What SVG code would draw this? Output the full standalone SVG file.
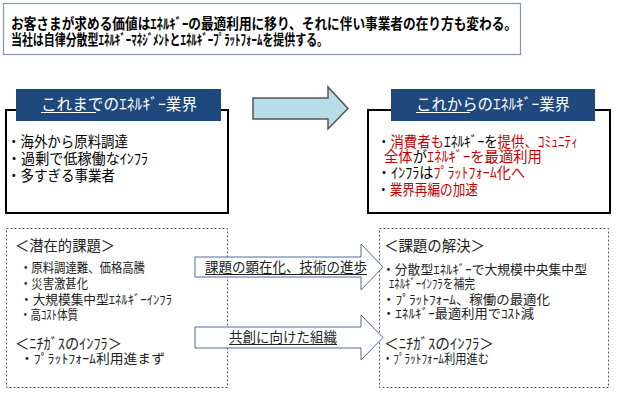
<svg xmlns="http://www.w3.org/2000/svg" width="624" height="393" viewBox="0 0 624 393">
<style>
text{font-family:"Noto Sans CJK JP","Noto Sans",sans-serif;fill:#000;}
.title{font-size:14.5px;font-weight:bold;}
.hdr{font-size:15.5px;fill:#fff;}
.b1{font-size:14.5px;}
.sec{font-size:15px;fill:#222;}
.b2{font-size:13px;fill:#222;}
.red{fill:#C00000;}
.arrtxt{font-size:14px;fill:#222;}
.hbox{fill:#1F497D;}
.body{fill:#fff;stroke:#000;stroke-width:2;}
.dash{fill:#fff;stroke:#555;stroke-width:1;stroke-dasharray:2,2;}
.marr{fill:#fff;stroke:#4F6A9A;stroke-width:1;}
.ul{stroke-width:1;}
</style>
<rect width="624" height="393" fill="#fff"/>
<g id="summary">
<rect x="3.5" y="3.5" width="517" height="51" fill="#fff" stroke="#8395B5" stroke-width="1.2"/>
<text class="title" x="11" y="29" textLength="506" lengthAdjust="spacingAndGlyphs">お客さまが求める価値はｴﾈﾙｷﾞｰの最適利用に移り、それに伴い事業者の在り方も変わる。</text>
<text class="title" x="11" y="45" textLength="317" lengthAdjust="spacingAndGlyphs">当社は自律分散型ｴﾈﾙｷﾞｰﾏﾈｼﾞﾒﾝﾄとｴﾈﾙｷﾞｰﾌﾟﾗｯﾄﾌｫｰﾑを提供する。</text>
</g>
<g id="past">
<rect class="body" x="6" y="110" width="222" height="103"/>
<rect class="hbox" x="16" y="89" width="205" height="32"/>
<text class="hdr" x="41" y="110" textLength="156" lengthAdjust="spacingAndGlyphs">これまでのｴﾈﾙｷﾞｰ業界</text>
<line x1="41" y1="112.5" x2="96" y2="112.5" stroke="#fff" class="ul"/>
<text class="b1" x="7" y="147" textLength="121" lengthAdjust="spacingAndGlyphs">・海外から原料調達</text>
<text class="b1" x="7" y="164" textLength="141" lengthAdjust="spacingAndGlyphs">・過剰で低稼働なｲﾝﾌﾗ</text>
<text class="b1" x="7" y="181" textLength="108" lengthAdjust="spacingAndGlyphs">・多すぎる事業者</text>
</g>
<g id="future">
<rect class="body" x="368" y="110" width="242" height="103"/>
<rect class="hbox" x="391" y="89" width="204" height="32"/>
<text class="hdr" x="416" y="110" textLength="154" lengthAdjust="spacingAndGlyphs">これからのｴﾈﾙｷﾞｰ業界</text>
<line x1="416" y1="112.5" x2="470" y2="112.5" stroke="#fff" class="ul"/>
<text class="b1" x="377" y="147" textLength="201" lengthAdjust="spacingAndGlyphs">・<tspan class="red">消費者も</tspan>ｴﾈﾙｷﾞｰを<tspan class="red">提供、ｺﾐｭﾆﾃｨ</tspan></text>
<text class="b1" x="384" y="162" textLength="158" lengthAdjust="spacingAndGlyphs"><tspan class="red">全体</tspan>が<tspan class="red">ｴﾈﾙｷﾞｰを最適利用</tspan></text>
<text class="b1" x="377" y="178" textLength="148" lengthAdjust="spacingAndGlyphs">・ｲﾝﾌﾗは<tspan class="red">ﾌﾟﾗｯﾄﾌｫｰﾑ化へ</tspan></text>
<text class="b1" x="377" y="195" textLength="101" lengthAdjust="spacingAndGlyphs">・<tspan class="red">業界再編の加速</tspan></text>
</g>
<g id="issues">
<rect class="dash" x="6.5" y="228.5" width="221" height="159"/>
<text class="sec" x="15" y="251" textLength="100" lengthAdjust="spacingAndGlyphs">＜潜在的課題＞</text>
<text class="b2" x="20" y="272" textLength="125" lengthAdjust="spacingAndGlyphs">・原料調達難、価格高騰</text>
<text class="b2" x="20" y="288" textLength="68" lengthAdjust="spacingAndGlyphs">・災害激甚化</text>
<text class="b2" x="20" y="304" textLength="152" lengthAdjust="spacingAndGlyphs">・大規模集中型ｴﾈﾙｷﾞｰｲﾝﾌﾗ</text>
<text class="b2" x="20" y="319" textLength="58" lengthAdjust="spacingAndGlyphs">・高ｺｽﾄ体質</text>
<text class="sec" x="15" y="349" textLength="107" lengthAdjust="spacingAndGlyphs">＜ﾆﾁｶﾞｽのｲﾝﾌﾗ＞</text>
<text class="b2" x="20" y="363" textLength="145" lengthAdjust="spacingAndGlyphs">・ﾌﾟﾗｯﾄﾌｫｰﾑ利用進まず</text>
</g>
<g id="solutions">
<rect class="dash" x="379.5" y="228.5" width="229" height="159"/>
<text class="sec" x="384" y="251" textLength="101" lengthAdjust="spacingAndGlyphs">＜課題の解決＞</text>
<text class="b2" x="382" y="274" textLength="205" lengthAdjust="spacingAndGlyphs">・分散型ｴﾈﾙｷﾞｰで大規模中央集中型</text>
<text class="b2" x="389" y="288" textLength="86" lengthAdjust="spacingAndGlyphs">ｴﾈﾙｷﾞｰｲﾝﾌﾗを補完</text>
<text class="b2" x="382" y="304" textLength="168" lengthAdjust="spacingAndGlyphs">・ﾌﾟﾗｯﾄﾌｫｰﾑ、稼働の最適化</text>
<text class="b2" x="382" y="318" textLength="152" lengthAdjust="spacingAndGlyphs">・ｴﾈﾙｷﾞｰ最適利用でｺｽﾄ減</text>
<text class="sec" x="384" y="349" textLength="110" lengthAdjust="spacingAndGlyphs">＜ﾆﾁｶﾞｽのｲﾝﾌﾗ＞</text>
<text class="b2" x="382" y="363" textLength="107" lengthAdjust="spacingAndGlyphs">・ﾌﾟﾗｯﾄﾌｫｰﾑ利用進む</text>
</g>
<g id="connectors">
<polygon points="253,98 328,98 328,87 348,108.5 328,129 328,119 253,119" fill="#B7DDE8" stroke="#555" stroke-width="1.5"/>
<polygon class="marr" points="195,257 361,257 361,244 383,267 361,290 361,277 195,277"/>
<text class="arrtxt" x="205" y="272" textLength="162" lengthAdjust="spacingAndGlyphs">課題の顕在化、技術の進歩</text>
<line x1="205" y1="274.5" x2="367" y2="274.5" stroke="#222" class="ul"/>
<polygon class="marr" points="195,327 361,327 361,315 383,337.5 361,360 361,348 195,348"/>
<text class="arrtxt" x="229" y="342" textLength="108" lengthAdjust="spacingAndGlyphs">共創に向けた組織</text>
<line x1="229" y1="344.5" x2="337" y2="344.5" stroke="#222" class="ul"/>
</g>
</svg>
